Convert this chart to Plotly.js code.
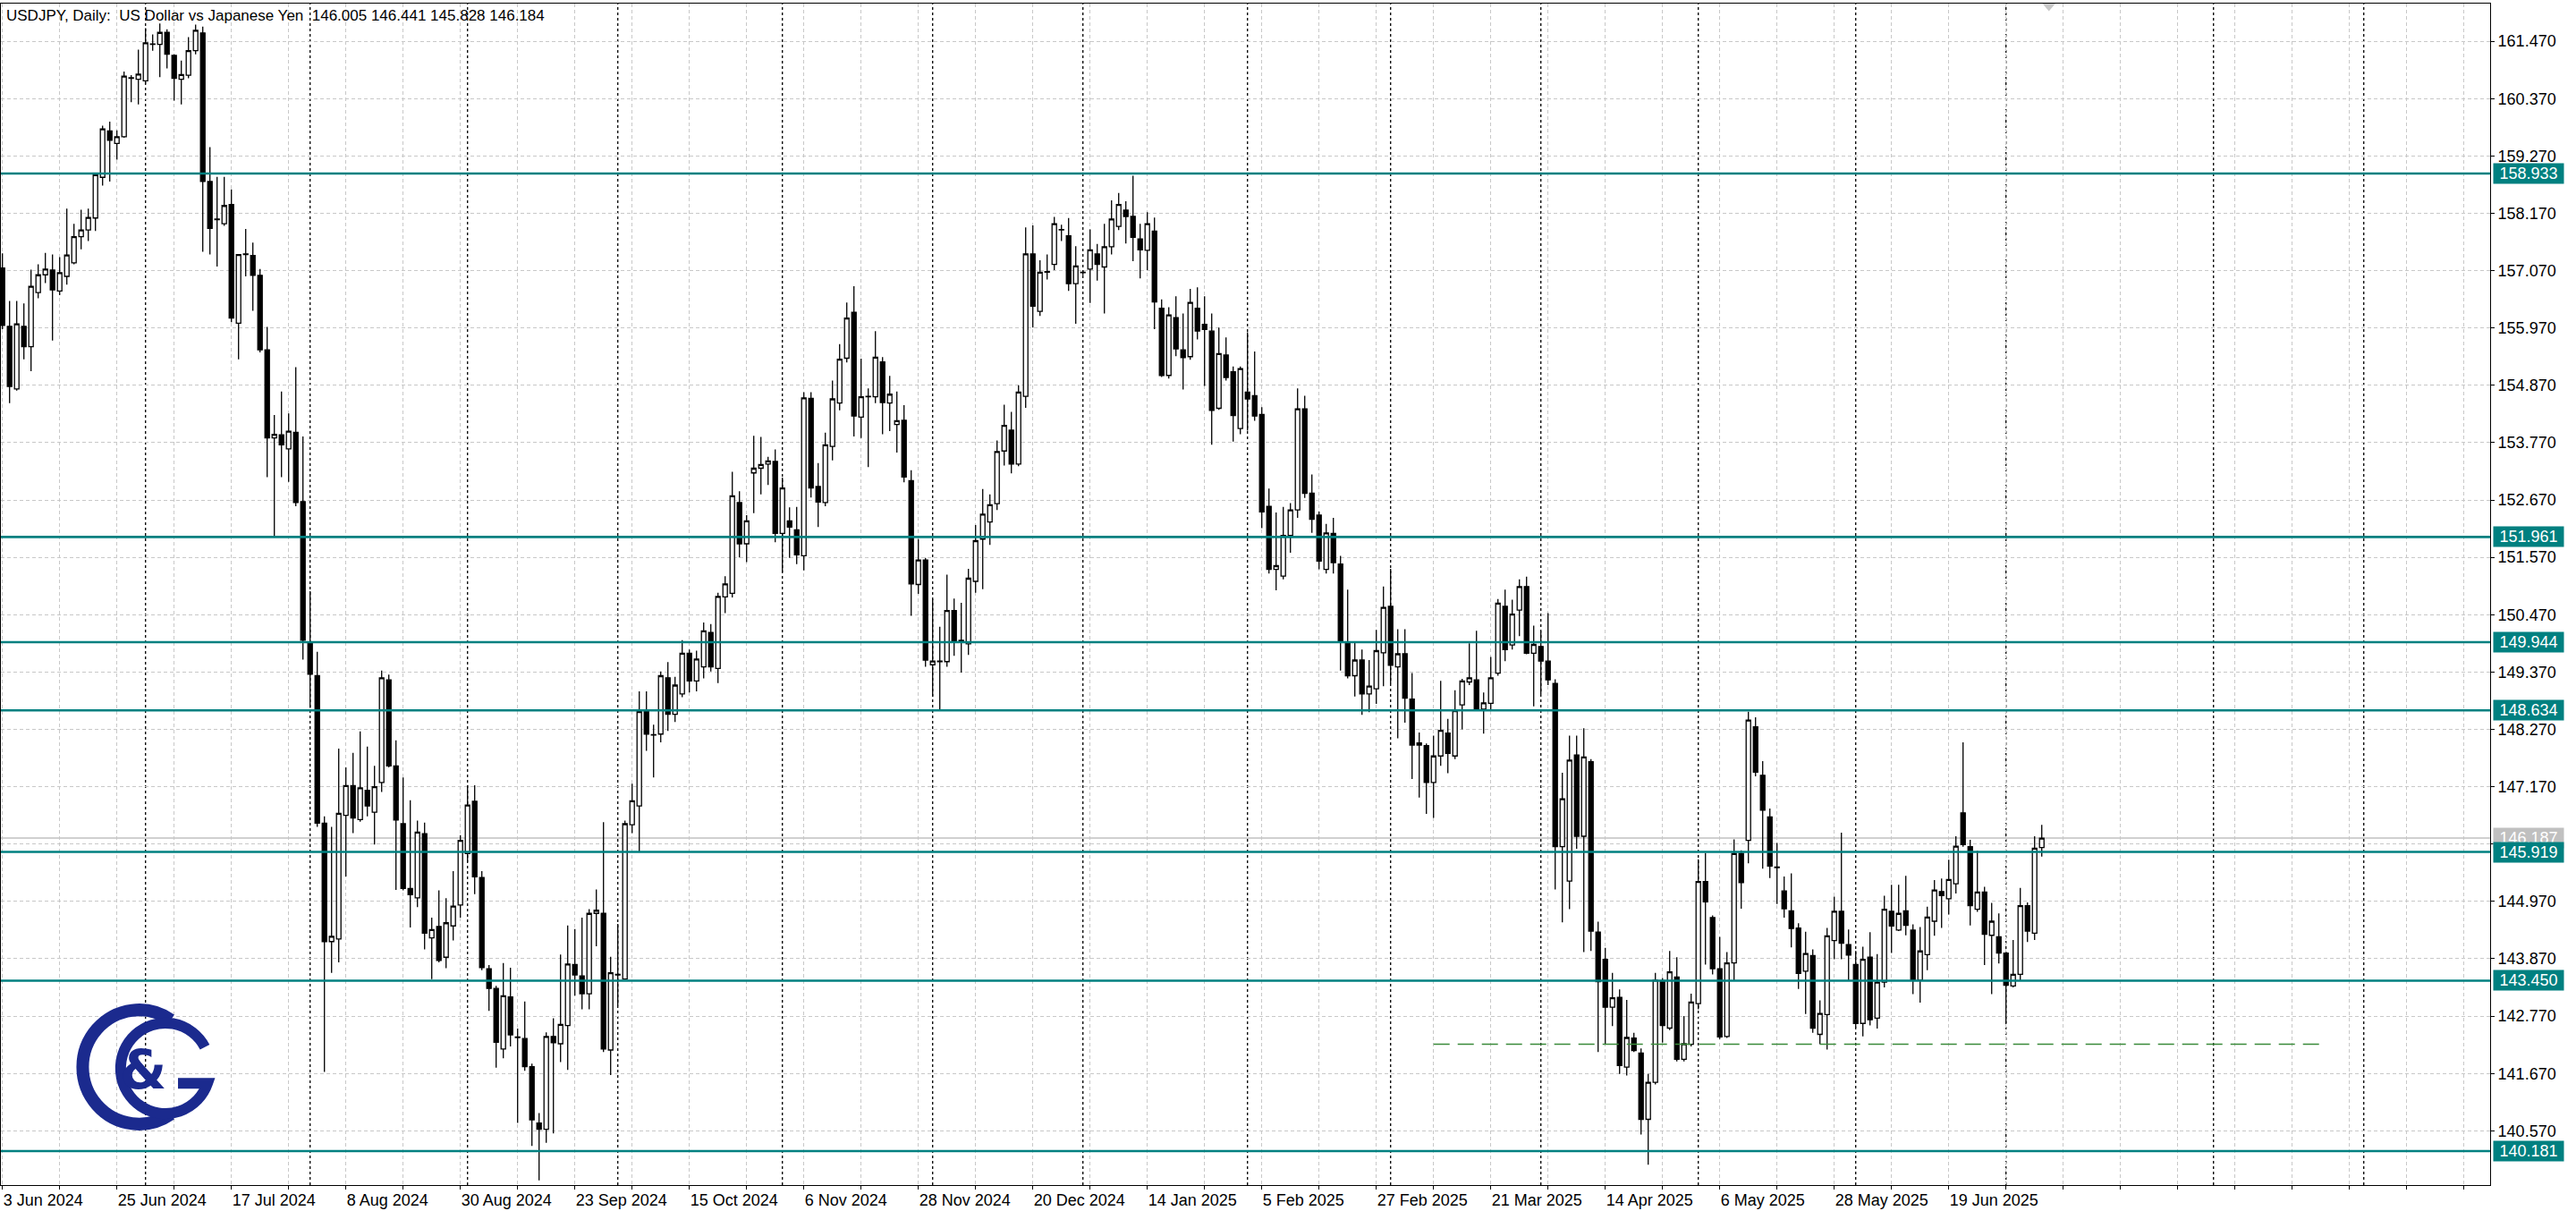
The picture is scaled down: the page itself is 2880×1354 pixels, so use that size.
<!DOCTYPE html>
<html><head><meta charset="utf-8">
<script src="https://cdn.plot.ly/plotly-3.0.1.min.js"></script>
<style>html,body{margin:0;padding:0;background:#fff}#chart{width:2880px;height:1354px}</style>
</head><body><div id="chart"></div>
<script>
// ---------------- data ----------------
const symbol = 'USDJPY', timeframe = 'Daily', description = 'US Dollar vs Japanese Yen';
const firstDay = '2024-06-03', lastDay = '2025-07-08';
const holidays = ['2024-12-25'];

const open = [
157.12,156.00,154.80,156.00,155.61,156.65,156.99,157.08,156.68,156.96,
157.22,157.72,157.85,158.08,158.86,159.75,159.51,159.64,160.76,160.74,
160.71,161.41,161.41,161.64,161.20,160.74,160.82,161.29,161.63,158.78,
158.05,157.97,158.34,156.06,157.38,157.36,156.98,155.55,153.86,153.92,
153.65,153.97,152.64,149.93,149.30,146.47,144.20,144.25,146.62,147.19,
146.54,147.10,146.68,147.25,149.22,147.57,146.46,145.22,145.04,146.27,
144.27,144.49,143.90,144.50,144.90,145.89,146.89,145.43,143.68,143.30,
142.14,143.14,142.36,142.34,141.80,140.72,140.60,142.38,142.24,142.59,
143.76,143.54,143.20,144.74,144.74,142.12,143.56,143.48,146.44,146.80,
148.61,148.16,148.18,149.26,148.56,148.95,149.73,149.20,149.47,150.13,
149.44,150.81,150.88,152.62,151.83,153.19,153.28,153.36,153.41,152.03,
152.27,152.10,151.60,154.62,152.93,152.62,153.70,154.53,155.39,156.27,
154.26,154.65,154.65,155.32,154.53,154.12,154.20,153.04,151.05,151.52,
149.51,149.57,149.57,150.55,149.97,149.91,151.11,151.92,152.25,152.60,
153.61,154.01,153.36,154.66,157.39,156.29,157.04,157.19,157.85,157.74,
156.82,157.03,157.10,157.39,157.14,157.53,157.92,158.23,158.11,157.68,
157.46,157.83,156.35,155.06,156.17,155.55,155.42,156.35,156.04,155.91,
154.43,155.45,155.13,154.04,154.74,154.67,154.31,152.55,151.34,151.21,
151.99,152.48,154.42,152.80,152.38,151.34,152.03,151.44,149.95,149.30,
149.60,148.95,149.05,149.74,150.63,149.47,149.72,148.85,147.97,147.96,
147.25,147.76,148.20,147.76,148.74,149.18,149.22,148.66,148.77,149.35,
150.63,149.89,150.56,151.01,149.73,149.86,149.58,149.15,146.02,145.36,
147.78,146.22,147.65,144.38,143.86,142.94,143.13,141.79,142.35,142.06,
140.79,141.50,143.45,142.54,143.52,141.94,142.23,143.01,145.35,144.66,
143.68,142.38,143.79,145.89,146.14,148.32,147.39,146.59,145.62,145.17,
144.79,144.46,143.63,143.93,142.42,142.80,144.22,144.78,144.14,143.76,
142.63,143.90,142.73,143.42,144.78,144.42,144.79,144.42,143.46,143.95,
144.59,145.16,145.02,145.31,146.67,146.02,144.82,145.15,144.32,144.29,
143.98,143.35,143.57,144.89,144.36,146.005];
const high = [
157.40,156.49,156.49,156.44,157.09,157.19,157.41,157.38,157.33,158.26,
157.97,158.24,158.26,158.93,159.85,159.93,159.76,160.89,160.82,161.31,
161.72,161.60,161.81,161.70,161.22,161.10,161.55,161.79,161.75,159.44,
158.87,158.87,158.63,157.38,157.87,157.61,157.10,155.99,154.30,154.75,
154.33,155.22,153.89,150.92,149.76,146.60,146.40,147.90,147.54,147.82,
148.23,147.94,147.57,149.40,149.32,148.06,147.35,146.91,146.52,146.48,
144.66,145.18,145.03,145.55,146.24,147.20,147.20,145.55,143.75,143.35,
143.79,143.70,142.53,143.05,141.86,140.91,142.46,142.73,143.95,144.51,
144.44,144.66,144.82,145.20,146.49,143.91,144.54,146.52,147.23,149.00,
149.00,148.36,149.38,149.56,149.28,149.98,149.80,149.78,150.32,150.29,
150.89,151.21,153.21,152.84,152.38,153.90,153.88,153.50,153.64,153.10,
152.53,152.54,154.74,154.74,153.38,153.96,154.96,155.66,156.46,156.77,
155.38,154.81,155.91,155.41,155.05,154.75,154.49,153.24,151.92,151.56,
150.77,150.24,151.24,150.78,150.70,151.35,152.19,152.88,152.78,153.81,
154.50,154.36,154.87,157.90,157.94,157.27,157.38,158.10,157.95,158.08,
157.54,157.08,157.86,157.58,157.97,158.42,158.56,158.40,158.89,157.97,
158.19,158.09,156.52,156.37,156.58,156.25,156.72,156.75,156.58,156.25,
155.98,155.79,155.23,155.23,155.89,155.52,154.45,152.89,152.43,152.54,
152.61,154.81,154.67,153.16,152.45,152.21,152.33,151.60,150.95,149.95,
149.80,149.60,150.18,151.01,151.35,150.19,150.19,149.35,148.21,148.00,
148.15,149.20,148.47,149.02,149.24,149.92,150.16,148.98,149.66,150.77,
150.95,150.76,151.15,151.20,150.26,150.15,150.50,149.23,147.44,148.15,
148.15,148.29,147.70,144.58,144.08,143.60,143.28,143.08,142.45,142.15,
141.66,143.60,143.50,144.02,143.90,142.77,143.20,145.78,145.90,144.70,
144.29,144.00,146.16,145.95,148.61,148.50,147.66,146.75,146.09,145.45,
145.51,144.55,144.39,144.05,143.07,144.46,145.06,146.29,144.43,144.02,
144.10,144.38,143.96,145.08,145.29,145.29,145.46,144.53,144.48,144.87,
145.38,145.41,145.77,146.22,148.02,146.15,145.94,145.25,144.94,144.74,
144.00,144.23,145.23,144.95,146.22,146.441];
const low = [
155.95,154.53,154.77,155.37,155.14,156.54,156.83,155.73,156.60,156.80,
157.19,157.48,157.64,157.83,158.70,158.78,159.20,159.62,160.30,160.26,
160.66,161.29,160.78,160.95,160.33,160.26,160.76,161.22,157.43,157.38,
157.15,157.93,156.08,155.37,156.96,156.30,155.50,153.11,151.96,153.11,
153.02,152.55,149.61,148.68,146.40,141.70,143.60,143.80,145.45,146.28,
146.50,146.60,146.06,147.07,147.54,145.19,145.18,144.47,144.86,144.05,
143.48,143.80,143.69,144.22,144.66,145.73,145.11,143.65,142.87,141.78,
141.96,142.19,140.72,141.72,140.28,139.62,140.34,140.52,141.89,141.74,
143.16,142.90,142.90,144.11,142.08,141.64,142.97,143.48,146.28,145.93,
147.86,147.35,148.02,148.24,148.41,148.89,148.98,149.00,149.25,149.38,
149.16,150.50,150.80,151.57,151.48,152.42,152.78,152.96,151.86,151.29,
151.56,151.44,151.32,152.72,152.15,152.55,153.43,154.39,155.31,153.89,
153.86,153.30,154.53,153.93,153.99,153.58,153.01,150.45,150.87,149.47,
148.90,148.65,149.47,149.68,149.36,149.70,150.89,150.96,151.81,152.48,
153.33,153.18,153.32,154.44,155.98,156.20,156.90,157.08,157.64,156.68,
156.05,156.98,156.45,156.88,156.25,157.38,157.85,157.59,157.25,156.92,
157.08,155.95,155.03,155.00,155.43,154.79,155.36,155.75,154.86,153.73,
154.40,154.96,153.79,153.93,154.00,154.19,152.13,151.26,150.94,151.15,
151.66,152.33,152.71,152.04,151.34,151.26,151.26,149.40,149.25,148.90,
148.55,148.60,148.76,149.10,149.15,148.10,148.40,147.32,146.96,146.65,
146.57,147.57,147.43,147.70,148.27,149.12,148.62,148.19,148.62,149.30,
149.58,149.80,150.06,149.71,148.71,148.95,149.12,145.20,144.57,144.82,
145.98,144.00,144.02,142.08,142.24,142.58,141.66,141.63,142.08,140.50,
139.92,141.46,142.26,142.50,141.90,141.90,142.19,142.90,143.76,143.57,
142.33,142.35,143.46,144.83,145.70,147.37,145.60,145.42,144.92,144.66,
144.09,143.29,142.81,142.45,142.23,142.13,143.86,143.86,143.46,142.55,
142.38,142.59,142.53,143.32,143.98,144.40,144.32,143.19,143.03,143.65,
144.31,144.46,144.72,145.12,146.02,144.51,144.77,143.75,143.19,143.78,
142.64,143.32,143.45,144.19,144.23,145.828];
const close = [
156.02,154.85,156.05,155.61,156.77,156.99,157.10,156.70,157.03,157.37,
157.72,157.85,158.09,158.91,159.79,159.57,159.64,160.80,160.77,160.84,
161.44,161.42,161.64,161.22,160.76,160.83,161.29,161.68,158.78,157.88,
158.06,158.32,156.16,157.38,157.39,156.98,155.55,153.86,153.93,153.73,
153.99,152.62,149.98,149.33,146.47,144.20,144.30,146.66,147.19,146.57,
147.15,146.80,147.17,149.26,147.57,146.53,145.22,145.10,146.30,144.36,
144.43,143.84,144.56,144.88,146.14,146.82,145.44,143.70,143.30,142.27,
143.16,142.41,142.37,141.80,140.78,140.60,142.38,142.26,142.61,143.77,
143.56,143.20,144.74,144.80,142.14,143.60,143.57,146.46,146.90,148.61,
148.18,148.17,149.30,148.56,149.12,149.73,149.20,149.62,150.16,149.47,
150.82,151.06,152.75,151.83,152.27,153.28,153.35,153.42,152.03,152.90,
152.15,151.62,154.63,152.90,152.63,153.73,154.61,155.37,156.16,154.28,
154.65,154.66,155.41,154.54,154.70,154.19,153.11,151.06,151.52,149.60,
149.58,149.58,150.55,149.96,149.98,151.17,151.89,152.40,152.58,153.60,
154.10,153.36,154.74,157.39,156.39,157.04,157.05,157.97,157.86,156.82,
157.16,157.04,157.47,157.19,157.53,158.06,158.34,158.11,157.71,157.47,
157.97,156.47,155.06,156.22,155.57,155.40,156.46,155.91,155.94,154.39,
155.48,155.02,154.29,155.19,154.61,154.28,152.44,151.34,151.41,151.99,
152.48,154.42,152.80,152.30,151.50,152.04,151.47,149.95,149.30,149.60,
148.95,149.10,149.78,150.61,149.50,149.72,148.87,147.97,148.01,147.25,
147.76,148.25,147.81,148.63,149.20,149.26,148.66,148.78,149.26,150.69,
149.80,150.48,151.01,149.73,149.90,149.58,149.22,146.02,146.94,147.68,
146.22,147.74,144.40,143.43,142.94,143.12,141.82,142.36,142.11,140.79,
141.50,143.46,142.59,143.62,141.94,142.24,143.04,145.35,144.96,143.68,
142.37,143.79,145.89,145.33,148.45,147.45,146.72,145.65,145.63,144.83,
144.45,143.59,143.97,142.54,142.82,144.31,144.78,144.17,143.94,142.63,
143.86,142.70,143.42,144.82,144.50,144.74,144.51,143.46,144.02,144.67,
145.19,145.08,145.39,146.03,146.06,144.89,145.15,144.34,144.59,143.98,
143.36,143.57,144.89,144.40,145.99,146.184];

const priceTicks = [161.47,160.37,159.27,158.17,157.07,155.97,154.87,153.77,152.67,151.57,
                    150.47,149.37,148.27,147.17,146.07,144.97,143.87,142.77,141.67,140.57];
const hiddenTickLabels = [146.07];   // covered by the object price labels in the terminal
const levels = [158.933,151.961,149.944,148.634,145.919,143.450,140.181];
const askPrice = 146.187;
const zoneLine = {price: 142.23, from: '2025-03-11', to: '2025-08-16'};
const monthNames = ['Jan','Feb','Mar','Apr','May','Jun','Jul','Aug','Sep','Oct','Nov','Dec'];

// ---------------- timeline ----------------
const DAY = 86400000;
function iso(d){return d.toISOString().slice(0,10);}
function buildDates(){
  const out=[]; let d=new Date(firstDay+'T00:00:00Z'); const end=new Date(lastDay+'T00:00:00Z');
  while(d<=end){const wd=d.getUTCDay(); const s=iso(d);
    if(wd!==0&&wd!==6&&!holidays.includes(s)) out.push(s);
    d=new Date(d.getTime()+DAY);}
  return out;
}
const dates = buildDates();
const timeline = dates.slice();
for(let k=1;k<=70;k++) timeline.push(iso(new Date(new Date(lastDay+'T00:00:00Z').getTime()+k*DAY)));
const idx = dates.map((d,i)=>i);
function fmtDate(s){const d=new Date(s+'T00:00:00Z');return d.getUTCDate()+' '+monthNames[d.getUTCMonth()]+' '+d.getUTCFullYear();}
const barOf = s => timeline.indexOf(s);

const xMin=-0.2125, xMax=347.66, yMin=139.529, yMax=162.193;
const tickvals=[], ticktext=[];
for(let i=0;i<=xMax;i+=8){tickvals.push(i); ticktext.push((i%16===0 && i<dates.length)? fmtDate(dates[i]) : '');}

const FONT='Liberation Sans, Arial, sans-serif';
const TEAL='#008080';
const shapes=[];
function sep(x){shapes.push({type:'line',xref:'x',yref:'paper',x0:x,x1:x,y0:0,y1:1,layer:'below',line:{color:'#000',width:1.3,dash:'3px,3px'}});}
// month separators on the trading bars
for(let i=1;i<dates.length;i++) if(dates[i].slice(0,7)!==dates[i-1].slice(0,7)) sep(i);
// separators the terminal draws in the empty (shifted) area
sep(dates.length+23); sep(dates.length+44);
// ask line
shapes.push({type:'line',xref:'paper',yref:'y',x0:0,x1:1,y0:askPrice,y1:askPrice,layer:'below',line:{color:'#c0c0c0',width:1.5}});
// green dashed zone line
shapes.push({type:'line',xref:'x',yref:'y',x0:barOf(zoneLine.from),x1:barOf(zoneLine.to),y0:zoneLine.price,y1:zoneLine.price,line:{color:'#3a8a3a',width:1.5,dash:'18px,9px'}});
// horizontal levels
levels.forEach(v=>shapes.push({type:'line',xref:'paper',yref:'y',x0:0,x1:1,y0:v,y1:v,line:{color:TEAL,width:2.6}}));
// chart shift marker
const sx=(dates.length-(xMin))/(xMax-xMin);
shapes.push({type:'path',xref:'paper',yref:'paper',path:`M ${sx-0.0026},1 L ${sx+0.0026},1 L ${sx},0.9935 Z`,fillcolor:'#c8c8c8',line:{width:0}});

const annotations=[];
const last = open.length-1;
annotations.push({xref:'paper',yref:'paper',x:0,y:1,xanchor:'left',yanchor:'top',xshift:4,yshift:-2,showarrow:false,
  text:`${symbol}, ${timeframe}:&nbsp; ${description}&nbsp; ${open[last].toFixed(3)} ${high[last].toFixed(3)} ${low[last].toFixed(3)} ${close[last].toFixed(3)}`,
  font:{family:FONT,size:17,color:'#000'}});
annotations.push({xref:'paper',yref:'y',x:1,y:askPrice,xanchor:'left',yanchor:'middle',xshift:3,showarrow:false,
  text:askPrice.toFixed(3),bgcolor:'#c0c0c0',width:76,height:20,borderpad:1,font:{family:FONT,size:18,color:'#fff'}});
levels.forEach(v=>annotations.push({xref:'paper',yref:'y',x:1,y:v,xanchor:'left',yanchor:'middle',xshift:3,showarrow:false,
  text:v.toFixed(3),bgcolor:TEAL,width:76,height:20,borderpad:1,font:{family:FONT,size:18,color:'#fff'}}));
// logo ampersand
annotations.push({xref:'paper',yref:'paper',x:(160-1)/2783,y:1-(1196-4)/1321,xanchor:'center',yanchor:'middle',showarrow:false,
  text:'<b>&</b>',font:{family:'DejaVu Sans, sans-serif',size:60,color:'#1b2a8e'}});

const logoSvg = `<svg xmlns="http://www.w3.org/2000/svg" width="164" height="164" viewBox="0 0 164 164">
<path d="M 112 30 A 63 63 0 1 0 112 134" fill="none" stroke="#1b2a8e" stroke-width="14"/>
<path d="M 150 60 A 50 50 0 1 0 153 100 L 120 100" fill="none" stroke="#1b2a8e" stroke-width="12"/>
</svg>`;

const trace={type:'candlestick',x:idx,open:open,high:high,low:low,close:close,
  increasing:{line:{color:'#000',width:1.3},fillcolor:'#ffffff'},
  decreasing:{line:{color:'#000',width:1.3},fillcolor:'#000000'},
  whiskerwidth:0,hoverinfo:'skip',showlegend:false};

const layout={width:2880,height:1354,margin:{l:1,r:96,t:4,b:29,pad:0},
  paper_bgcolor:'#fff',plot_bgcolor:'#fff',showlegend:false,
  boxgap:0.375,boxgroupgap:0,
  xaxis:{type:'linear',range:[xMin,xMax],tickmode:'array',tickvals:tickvals,ticktext:ticktext,
    ticks:'outside',ticklen:4,tickcolor:'#000',ticklabelposition:'outside right',
    showgrid:true,gridcolor:'#c8c8c8',griddash:'4px,3px',gridwidth:1,
    showline:true,linecolor:'#000',linewidth:1,mirror:true,zeroline:false,
    rangeslider:{visible:false},fixedrange:true,
    tickfont:{family:FONT,size:18,color:'#000'}},
  yaxis:{side:'right',range:[yMin,yMax],tickmode:'array',tickvals:priceTicks,
    ticktext:priceTicks.map(v=>hiddenTickLabels.includes(v)?'':v.toFixed(3)),
    ticks:'outside',ticklen:4,tickcolor:'#000',
    showgrid:true,gridcolor:'#c8c8c8',griddash:'4px,3px',gridwidth:1,
    showline:true,linecolor:'#000',linewidth:1,mirror:true,zeroline:false,fixedrange:true,
    tickfont:{family:FONT,size:18,color:'#000'}},
  shapes:shapes,annotations:annotations,
  images:[{source:'data:image/svg+xml;charset=utf-8,'+encodeURIComponent(logoSvg),xref:'paper',yref:'paper',
    x:(79-1)/2783,y:1-(1110-4)/1321,sizex:164/2783,sizey:166/1321,sizing:'stretch',xanchor:'left',yanchor:'top',layer:'above'}]
};
Plotly.newPlot('chart',[trace],layout,{displayModeBar:false,staticPlot:true});
</script></body></html>
